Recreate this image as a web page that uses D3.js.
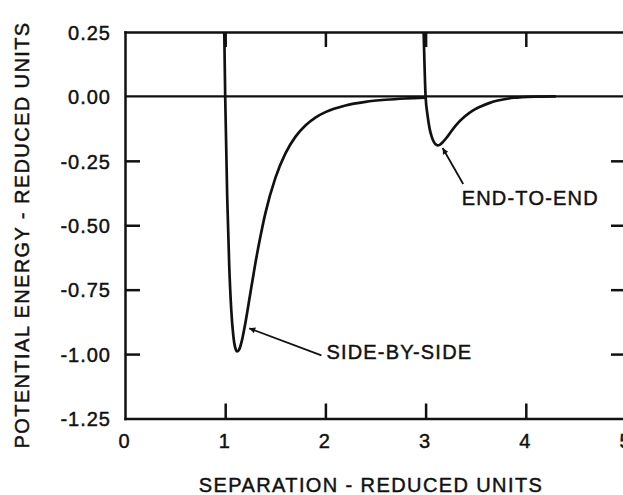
<!DOCTYPE html>
<html>
<head>
<meta charset="utf-8">
<script src="https://cdn.jsdelivr.net/npm/d3@7/dist/d3.min.js"></script>
<style>
  html, body { margin: 0; padding: 0; background: #fff; }
  svg { display: block; }
  text { font-family: "Liberation Sans", Arial, Helvetica, sans-serif; fill: #111; stroke: #111; stroke-width: 0.45px; }
</style>
</head>
<body>
<svg id="chart" width="623" height="495"></svg>
<script>
// ---- data ----
const xTicks = [0, 1, 2, 3, 4, 5];
const yTicks = [0.25, 0.00, -0.25, -0.50, -0.75, -1.00, -1.25];
const yTickLabels = ["0.25", "0.00", "-0.25", "-0.50", "-0.75", "-1.00", "-1.25"];

const sideX = [0.99, 1.00, 1.02, 1.04, 1.06, 1.08, 1.10, 1.12, 1.14, 1.17, 1.20, 1.25, 1.30, 1.35, 1.40, 1.50, 1.60, 1.70, 1.80, 1.90, 2.00, 2.20, 2.40, 2.60, 2.80, 3.00];
const sideY = [0.27, 0.00, -0.39, -0.655, -0.825, -0.925, -0.975, -0.99, -0.982, -0.942, -0.882, -0.766, -0.650, -0.547, -0.455, -0.317, -0.222, -0.157, -0.113, -0.082, -0.061, -0.035, -0.021, -0.013, -0.008, -0.005];

const endX = [2.98, 3.00, 3.02, 3.04, 3.06, 3.08, 3.10, 3.12, 3.14, 3.17, 3.22, 3.30, 3.39, 3.47, 3.55, 3.64, 3.72, 3.80, 3.88, 3.96, 4.10, 4.30];
const endY = [0.26, 0.00, -0.075, -0.125, -0.155, -0.175, -0.186, -0.19, -0.188, -0.178, -0.155, -0.113, -0.078, -0.055, -0.039, -0.025, -0.016, -0.010, -0.005, -0.003, -0.001, 0.0];

const annLabels = ["SIDE-BY-SIDE", "END-TO-END"];
const annTip = [[1.24, -0.90], [3.17, -0.20]];
const annTail = [[1.96, -1.005], [3.375, -0.34]];
const annText = [[2.01, -0.99], [3.36, -0.395]];

// ---- layout ----
const svg = d3.select("#chart");
const L = 125, T = 32, R = 626, B = 418.5;
const x = d3.scaleLinear().domain([0, 5]).range([L, R]);
const y = d3.scaleLinear().domain([-1.25, 0.25]).range([B, T]);
const sw = 2.5, tickLen = 15;

svg.append("defs").append("clipPath").attr("id", "plotclip")
  .append("rect").attr("x", L).attr("y", T).attr("width", R - L).attr("height", B - T);

const marker = svg.select("defs").append("marker")
  .attr("id", "arrow").attr("viewBox", "0 0 10 10").attr("refX", 10).attr("refY", 5)
  .attr("markerWidth", 12).attr("markerHeight", 6).attr("markerUnits", "userSpaceOnUse")
  .attr("orient", "auto");
marker.append("path").attr("d", "M0,0 L10,5 L0,10 Z").attr("fill", "#111");

// axes via d3 axis generators (ticks inward)
const fmtNone = () => "";
const gBottom = svg.append("g").attr("transform", `translate(0,${B})`)
  .call(d3.axisBottom(x).tickValues(xTicks).tickSizeInner(-tickLen).tickSizeOuter(0).tickFormat(d => d3.format("d")(d)));
const gTop = svg.append("g").attr("transform", `translate(0,${T})`)
  .call(d3.axisTop(x).tickValues(xTicks).tickSizeInner(-tickLen).tickSizeOuter(0).tickFormat(fmtNone));
const gLeft = svg.append("g").attr("transform", `translate(${L},0)`)
  .call(d3.axisLeft(y).tickValues(yTicks).tickSizeInner(-tickLen).tickSizeOuter(0).tickFormat((d, i) => yTickLabels[i]));
const gRight = svg.append("g").attr("transform", `translate(${R},0)`)
  .call(d3.axisRight(y).tickValues(yTicks).tickSizeInner(-tickLen).tickSizeOuter(0).tickFormat(fmtNone));

[gBottom, gTop, gLeft, gRight].forEach(g => {
  g.selectAll(".domain").attr("stroke", "#111").attr("stroke-width", sw).attr("stroke-linecap", "square");
  g.selectAll(".tick line").attr("stroke", "#111").attr("stroke-width", sw);
  g.selectAll("text").attr("fill", "#111").attr("stroke", "#111").attr("stroke-width", 0.45)
    .style("font-family", "'Liberation Sans', Arial, sans-serif")
    .style("font-size", "20px").style("letter-spacing", "1px");
});
gBottom.selectAll(".tick text").attr("y", 15).attr("dy", "0.71em").attr("dx", "-1");
gLeft.selectAll(".tick text").attr("x", -14).attr("dy", "0.36em");
// remove tick marks that coincide with corners
gBottom.selectAll(".tick").filter(d => d === 0 || d === 5).select("line").remove();
gTop.selectAll(".tick").filter(d => d === 0 || d === 5).select("line").remove();
gLeft.selectAll(".tick").filter(d => d === 0.25 || d === -1.25 || d === 0).select("line").remove();
gRight.selectAll(".tick").filter(d => d === 0.25 || d === -1.25 || d === 0).select("line").remove();

// zero line
svg.append("line")
  .attr("x1", x(0)).attr("x2", x(5)).attr("y1", y(0)).attr("y2", y(0))
  .attr("stroke", "#111").attr("stroke-width", 2.2);

// curves
const line = d3.line().x(d => x(d[0])).y(d => y(d[1])).curve(d3.curveMonotoneX);
const plot = svg.append("g").attr("clip-path", "url(#plotclip)");
plot.append("path").datum(d3.zip(sideX, sideY)).attr("d", line)
  .attr("fill", "none").attr("stroke", "#111").attr("stroke-width", 2.7).attr("stroke-linejoin", "round");
plot.append("path").datum(d3.zip(endX, endY)).attr("d", line)
  .attr("fill", "none").attr("stroke", "#111").attr("stroke-width", 2.7).attr("stroke-linejoin", "round");

// annotations
annLabels.forEach((lab, i) => {
  svg.append("line")
    .attr("x1", x(annTail[i][0])).attr("y1", y(annTail[i][1]))
    .attr("x2", x(annTip[i][0])).attr("y2", y(annTip[i][1]))
    .attr("stroke", "#111").attr("stroke-width", 1.8).attr("marker-end", "url(#arrow)");
  svg.append("text").attr("x", x(annText[i][0])).attr("y", y(annText[i][1]))
    .attr("dy", "0.36em").style("font-size", "20px").style("letter-spacing", "1.2px")
    .text(lab);
});

// axis titles
svg.append("text").attr("x", 371).attr("y", 492).attr("text-anchor", "middle")
  .style("font-size", "20px").style("letter-spacing", "1.4px")
  .text("SEPARATION - REDUCED UNITS");
svg.append("text").attr("transform", "translate(28.5,235) rotate(-90)").attr("text-anchor", "middle")
  .style("font-size", "20px").style("letter-spacing", "1.4px")
  .text("POTENTIAL ENERGY - REDUCED UNITS");
</script>
</body>
</html>
